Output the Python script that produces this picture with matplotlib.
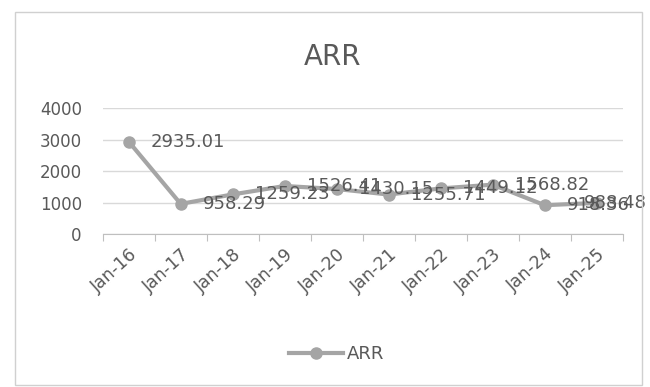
import numpy as np
from matplotlib import pyplot as plt
from matplotlib.patches import Rectangle
from matplotlib.transforms import blended_transform_factory

months = ['Jan-16', 'Jan-17', 'Jan-18', 'Jan-19', 'Jan-20',
          'Jan-21', 'Jan-22', 'Jan-23', 'Jan-24', 'Jan-25']
arr = [2935.01, 958.29, 1259.23, 1526.41, 1430.15,
       1255.71, 1449.12, 1568.82, 918.36, 988.48]
yticks = [0, 1000, 2000, 3000, 4000]

line_color = '#A5A5A5'
text_color = '#595959'
grid_color = '#D9D9D9'


def plot_arr():
    fig = plt.figure(figsize=(6.5, 3.87), dpi=100)
    fig.patches.append(Rectangle((0.023, 0.005), 0.965, 0.963,
                                 transform=fig.transFigure, fill=False,
                                 edgecolor='#D0D0D0', linewidth=1))
    ax = fig.add_axes([0.158, 0.395, 0.8, 0.326])

    x = np.arange(len(months))
    ax.plot(x, arr, color=line_color, linewidth=3, marker='o',
            markersize=8, label='ARR', zorder=3)

    # Excel-style labels to the right of each point; the last one is pushed
    # back inside the chart area
    edge = blended_transform_factory(fig.transFigure, ax.transData)
    for i, (xi, v) in enumerate(zip(x, arr)):
        label = '{:.2f}'.format(v)
        if i == len(arr) - 1:
            ax.text(0.995, v, label, transform=edge, ha='right', va='center',
                    fontsize=13, color=text_color, zorder=4)
        else:
            ax.annotate(label, (xi, v), xytext=(16, 0),
                        textcoords='offset points', ha='left', va='center',
                        fontsize=13, color=text_color, zorder=4)

    ax.set_xlim(-0.5, len(months) - 0.5)
    ax.set_ylim(0, 4000)
    ax.set_yticks(yticks)
    ax.grid(axis='y', color=grid_color, linewidth=1)
    ax.set_axisbelow(True)

    ax.set_xticks(np.arange(len(months) + 1) - 0.5)
    ax.set_xticklabels([])
    ax.set_xticks(x, minor=True)
    ax.set_xticklabels(months, minor=True, rotation=42, ha='right',
                       rotation_mode='anchor', fontsize=12.5, color=text_color)
    ax.tick_params(axis='x', which='major', length=5, color='#BFBFBF')
    ax.tick_params(axis='x', which='minor', length=0, pad=8)
    ax.tick_params(axis='y', length=0, labelsize=12, labelcolor=text_color,
                   pad=15)

    for side in ['top', 'right', 'left']:
        ax.spines[side].set_visible(False)
    ax.spines['bottom'].set_color('#BFBFBF')

    fig.text(0.512, 0.853, 'ARR', ha='center', va='center', fontsize=20,
             color=text_color)
    fig.legend(loc='center', bbox_to_anchor=(0.518, 0.085), frameon=False,
               fontsize=13, labelcolor=text_color, handlelength=3,
               handletextpad=0.2)
    fig.savefig('out.png', dpi=100, facecolor='white')


if __name__ == "__main__":
    plot_arr()
